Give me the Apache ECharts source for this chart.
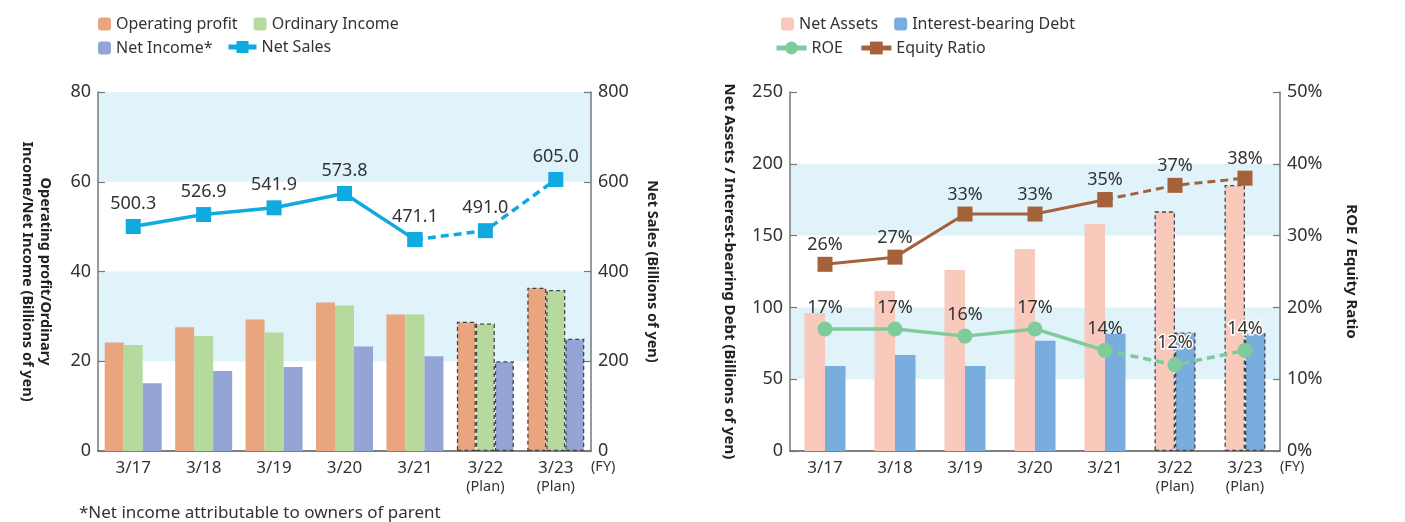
<!DOCTYPE html>
<html>
<head>
<meta charset="utf-8">
<script src="https://cdn.jsdelivr.net/npm/echarts@6/dist/echarts.min.js"></script>
<style>
html,body{margin:0;padding:0;background:#fff;}
#main{width:1405px;height:522px;}
</style>
</head>
<body>
<div id="main"></div>
<script>
const categories = ['3/17','3/18','3/19','3/20','3/21','3/22','3/23'];
const isPlan = [false,false,false,false,false,true,true];
const operatingProfit = [24.2,27.6,29.3,33.1,30.4,28.8,36.4];
const ordinaryIncome = [23.6,25.6,26.4,32.4,30.4,28.4,35.9];
const netIncome = [15.1,17.8,18.7,23.3,21.1,20.0,25.0];
const netSales = [500.3,526.9,541.9,573.8,471.1,491.0,605.0];
const netAssets = [96.1,111.4,126.0,140.7,158.1,166.9,185.2];
const interestDebt = [59.2,66.9,59.2,76.8,81.7,82.6,82.0];
const roe = [17,17,16,17,14,12,14];
const equityRatio = [26,27,33,33,35,37,38];

const FONT = 'Noto Sans';
const TXT = '#333';
const BAND = '#E0F2FA';

function barData(arr){
  return arr.map((v,i)=> isPlan[i] ? {value:v, itemStyle:{borderColor:'#444',borderWidth:1.3,borderType:[4,3]}} : v);
}
const lastActual = isPlan.indexOf(true) - 1;
function solidPart(arr){ return arr.map((v,i)=> i<=lastActual ? v : '-'); }
function dashPart(arr){ return arr.map((v,i)=> i>=lastActual ? v : '-'); }

const xLabel = {
  color: TXT, fontFamily: FONT, margin: 8, interval: 0,
  formatter: function(v, i){ return isPlan[i] ? '{a|'+v+'}\n{p|(Plan)}' : '{a|'+v+'}'; },
  rich: {a:{fontSize:17, lineHeight:19, color:TXT, fontFamily:FONT}, p:{fontSize:14.5, lineHeight:18, color:TXT, fontFamily:FONT}}
};
const yLabelStyle = {color: TXT, fontSize: 18, fontFamily: FONT, margin: 7};
const axisLineStyle = {show:true, lineStyle:{color:'#777', width:1.5}};
const tickStyle = {show:true, inside:true, length:7, lineStyle:{color:'#777', width:1.2}};
const nameStyleL = {color:'#222', fontSize:14.5, fontWeight:'bold', fontFamily:FONT, lineHeight:18};
const nameStyleR = {color:'#222', fontSize:15, fontWeight:'bold', fontFamily:FONT, lineHeight:18};
const legText = {fontSize:16, color:TXT, fontFamily:FONT};
const dl = {fontSize:18, color:TXT, fontFamily:FONT};
const fyName = {fontSize:14.5, color:TXT, fontFamily:FONT, verticalAlign:'top', padding:[8,0,0,0]};

const option = {
  animation: false,
  textStyle: {fontFamily: FONT},
  title: {text:'*Net income attributable to owners of parent', left:74, top:500,
    textStyle:{fontSize:17, fontWeight:'normal', color:TXT, fontFamily:FONT}},
  legend: [
    {data:['Operating profit','Ordinary Income'], left:93, top:11, itemWidth:13, itemHeight:13, itemGap:16, textStyle:legText},
    {data:['Net Income*'], left:93, top:35, itemWidth:13, itemHeight:13, textStyle:legText},
    {data:['Net Sales'], left:221, top:34, itemWidth:28, itemHeight:15, lineStyle:{width:5}, textStyle:legText},
    {data:['Net Assets','Interest-bearing Debt'], left:776, top:11, itemWidth:13, itemHeight:13, itemGap:16, textStyle:legText},
    {data:['ROE','Equity Ratio'], left:769, top:35, itemWidth:30, itemHeight:16, itemGap:16, lineStyle:{width:5}, textStyle:legText}
  ],
  grid: [
    {left:98, right:814, top:92, bottom:71},
    {left:790, right:125, top:92, bottom:71}
  ],
  xAxis: [
    {type:'category', gridIndex:0, data:categories, axisLine:{show:true, lineStyle:{color:'#555', width:1.5}},
      axisTick:{show:false}, axisLabel:xLabel, name:'(FY)', nameLocation:'end', nameGap:0, nameMoveOverlap:false,
      nameTextStyle:fyName},
    {type:'category', gridIndex:1, data:categories, axisLine:{show:true, lineStyle:{color:'#555', width:1.5}},
      axisTick:{show:false}, axisLabel:xLabel, name:'(FY)', nameLocation:'end', nameGap:0, nameMoveOverlap:false,
      nameTextStyle:fyName}
  ],
  yAxis: [
    {type:'value', gridIndex:0, min:0, max:80, interval:20, position:'left',
      name:'Operating profit/Ordinary\nIncome/Net Income (Billions of yen)', nameLocation:'middle', nameRotate:-90, nameGap:44,
      nameTextStyle:nameStyleL,
      axisLine:axisLineStyle, axisTick:tickStyle, axisLabel:yLabelStyle,
      splitLine:{show:false}, splitArea:{show:true, areaStyle:{color:['rgba(255,255,255,0)', BAND]}}},
    {type:'value', gridIndex:0, min:0, max:800, interval:200, position:'right',
      name:'Net Sales (Billions of yen)', nameLocation:'middle', nameRotate:-90, nameGap:52,
      nameTextStyle:nameStyleL,
      axisLine:axisLineStyle, axisTick:tickStyle, axisLabel:yLabelStyle, splitLine:{show:false}},
    {type:'value', gridIndex:1, min:0, max:250, interval:50, position:'left',
      name:'Net Assets / Interest-bearing Debt (Billions of yen)', nameLocation:'middle', nameRotate:-90, nameGap:52,
      nameTextStyle:nameStyleR,
      axisLine:axisLineStyle, axisTick:tickStyle, axisLabel:yLabelStyle,
      splitLine:{show:false}, splitArea:{show:true, areaStyle:{color:['rgba(255,255,255,0)', BAND]}}},
    {type:'value', gridIndex:1, min:0, max:50, interval:10, position:'right',
      name:'ROE / Equity Ratio', nameLocation:'middle', nameRotate:-90, nameGap:62,
      nameTextStyle:nameStyleR,
      axisLine:axisLineStyle, axisTick:tickStyle, axisLabel:Object.assign({}, yLabelStyle, {formatter:'{value}%'}), splitLine:{show:false}}
  ],
  series: [
    {name:'Operating profit', type:'bar', xAxisIndex:0, yAxisIndex:0, data:barData(operatingProfit), barWidth:19, barGap:'0%',
      itemStyle:{color:'#E8A57E'}},
    {name:'Ordinary Income', type:'bar', xAxisIndex:0, yAxisIndex:0, data:barData(ordinaryIncome), barWidth:19, barGap:'0%',
      itemStyle:{color:'#B6DA9D'}},
    {name:'Net Income*', type:'bar', xAxisIndex:0, yAxisIndex:0, data:barData(netIncome), barWidth:19, barGap:'0%',
      itemStyle:{color:'#94A4D4'}},
    {name:'Net Sales', type:'line', xAxisIndex:0, yAxisIndex:1, data:solidPart(netSales), symbol:'rect', symbolSize:15,
      lineStyle:{color:'#10A9E0', width:3.5}, itemStyle:{color:'#10A9E0'}, z:5,
      label:Object.assign({show:true, position:'top', distance:6, formatter:p=>p.value.toFixed(1)}, dl)},
    {name:'Net Sales plan', type:'line', xAxisIndex:0, yAxisIndex:1, data:dashPart(netSales), symbol:'rect', symbolSize:15,
      lineStyle:{color:'#10A9E0', width:3.5, type:[8,5]}, itemStyle:{color:'#10A9E0'}, z:4,
      label:Object.assign({show:true, position:'top', distance:6,
        formatter:p=> p.dataIndex===lastActual ? '' : p.value.toFixed(1)}, dl)},

    {name:'Net Assets', type:'bar', xAxisIndex:1, yAxisIndex:2, data:barData(netAssets), barWidth:20.5, barGap:'0%',
      itemStyle:{color:'#F9C9BB'}},
    {name:'Interest-bearing Debt', type:'bar', xAxisIndex:1, yAxisIndex:2, data:barData(interestDebt), barWidth:20.5, barGap:'0%',
      itemStyle:{color:'#79ADDE'}},
    {name:'ROE', type:'line', xAxisIndex:1, yAxisIndex:3, data:solidPart(roe), symbol:'circle', symbolSize:15,
      lineStyle:{color:'#7ECB9C', width:3.5}, itemStyle:{color:'#7ECB9C'}, z:5,
      label:Object.assign({show:true, position:'top', distance:5, formatter:'{c}%'}, dl)},
    {name:'ROE plan', type:'line', xAxisIndex:1, yAxisIndex:3, data:dashPart(roe), symbol:'circle', symbolSize:15,
      lineStyle:{color:'#7ECB9C', width:3.5, type:[8,5]}, itemStyle:{color:'#7ECB9C'}, z:4,
      label:Object.assign({show:true, position:'top', distance:5, textBorderColor:'#fff', textBorderWidth:3,
        formatter:p=> p.dataIndex===lastActual ? '' : p.value+'%'}, dl)},
    {name:'Equity Ratio', type:'line', xAxisIndex:1, yAxisIndex:3, data:solidPart(equityRatio), symbol:'rect', symbolSize:15,
      lineStyle:{color:'#A5613A', width:3}, itemStyle:{color:'#A5613A'}, z:5,
      label:Object.assign({show:true, position:'top', distance:3, formatter:'{c}%'}, dl)},
    {name:'Equity Ratio plan', type:'line', xAxisIndex:1, yAxisIndex:3, data:dashPart(equityRatio), symbol:'rect', symbolSize:15,
      lineStyle:{color:'#A5613A', width:3, type:[8,5]}, itemStyle:{color:'#A5613A'}, z:4,
      label:Object.assign({show:true, position:'top', distance:3,
        formatter:p=> p.dataIndex===lastActual ? '' : p.value+'%'}, dl)}
  ]
};
const chart = echarts.init(document.getElementById('main'), null, {renderer:'canvas'});
chart.setOption(option);
</script>
</body>
</html>
